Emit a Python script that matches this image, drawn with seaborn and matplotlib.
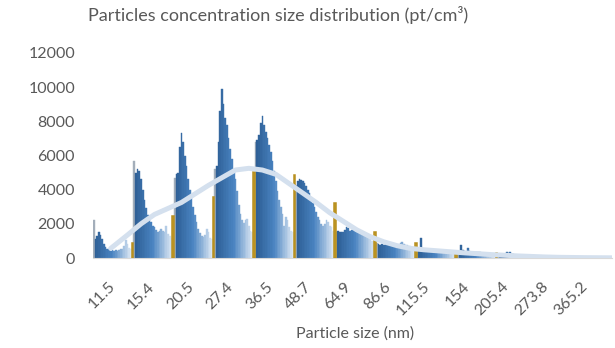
import numpy as np
import pandas as pd
import seaborn as sns
import matplotlib.pyplot as plt
from matplotlib.colors import LinearSegmentedColormap

# tick labels (one per scan segment)
size_labels = ['11.5', '15.4', '20.5', '27.4', '36.5', '48.7', '64.9',
               '86.6', '115.5', '154', '205.4', '273.8', '365.2']

# bar heights per segment (pt/cm3)
seg_11_5 = [2250, 1100, 1300, 1500, 1350, 1100, 800, 650, 550, 500, 420, 450,
            400, 480, 430, 450, 500, 550, 700, 1050, 800, 600, 500]
seg_15_4 = [5700, 5000, 5200, 5100, 4600, 4000, 3400, 2900, 2500, 2300, 2100, 1900,
            1800, 1650, 1550, 1600, 1700, 1600, 1500, 1900, 1400, 1300, 1200]
seg_20_5 = [4700, 4900, 5000, 6500, 7300, 6800, 6000, 5400, 4600, 4000, 3500, 3000,
            2500, 2100, 1700, 1450, 1300, 1250, 1350, 1700, 1500, 1200, 1100]
seg_27_4 = [5200, 5400, 6800, 8600, 9900, 9000, 8200, 7800, 7000, 6400, 5800, 5200,
            4600, 3900, 3100, 2600, 2200, 2050, 2200, 2300, 1900, 1600, 1500]
seg_36_5 = [6800, 6900, 7200, 7900, 8300, 7800, 7400, 7000, 6600, 6200, 5700, 5100,
            4500, 3900, 3400, 3000, 2600, 1900, 2400, 2200, 1800, 1600, 1500]
seg_48_7 = [4300, 4500, 4600, 4550, 4500, 4400, 4200, 4000, 3800, 3500, 3200, 3000,
            2700, 2400, 2200, 2000, 1900, 2000, 2200, 2100, 1900, 1800, 1600]
seg_64_9 = [1500, 1600, 1550, 1500, 1550, 1650, 1800, 1750, 1600, 1650, 1700, 1650,
            1600, 1650, 1550, 1500, 1400, 1350, 1250, 1150, 1100, 1000, 950]
seg_86_6 = [850, 800, 780, 820, 780, 800, 760, 800, 750, 780, 720, 760,
            700, 740, 900, 950, 820, 760, 780, 720, 700, 650, 620]
seg_115_5 = [500, 450, 1150, 550, 480, 450, 500, 470, 430, 460, 450, 420,
             440, 400, 420, 450, 400, 380, 420, 380, 350, 330, 300]
seg_154 = [400, 380, 750, 450, 400, 380, 600, 420, 380, 350, 370, 340,
           330, 350, 320, 300, 320, 300, 280, 260, 250, 240, 220]
seg_205_4 = [250, 230, 220, 240, 250, 350, 300, 380, 250, 220, 200, 180,
             160, 150, 140, 120, 110, 100, 90, 80, 70, 60, 50]
seg_273_8 = [45, 40, 42, 38, 35, 36, 33, 30, 32, 28, 26, 25,
             24, 22, 20, 20, 18, 18, 16, 15, 14, 14, 12]
seg_365_2 = [12, 11, 10, 10, 9, 9, 8, 8, 7, 7, 6, 6,
             5, 5, 5, 4, 4, 4, 3, 3, 3, 2, 2]

# last (gold) bar of each segment
gold = [850, 2450, 3550, 5050, 4850, 3200, 1500, 850, 350, 300, 80, 20, 5]

# moving-average trend, sampled along the bars
trend = [560, 1350,
         2000, 2550, 2900, 3250, 3750, 4250, 4700, 5150, 5250,
         5150, 4900, 4350, 3800, 3250, 2650, 2150, 1650, 1250,
         950, 720, 560, 480, 420, 360, 300, 250, 200,
         160, 120, 90, 60, 40, 30, 20, 15, 10]

segments = [seg_11_5, seg_15_4, seg_20_5, seg_27_4, seg_36_5, seg_48_7, seg_64_9,
            seg_86_6, seg_115_5, seg_154, seg_205_4, seg_273_8, seg_365_2]

grad = LinearSegmentedColormap.from_list(
    'seg', [(0, '#2C5D93'), (0.5, '#4A84C1'), (1, '#DAE6F3')])
GOLD = '#C9A12B'
GREY = '#595959'
FONT = ['Lato', 'DejaVu Sans']

n_seg = len(segments[0]) + 1
values, colors, is_gold = [], [], []
for s, seg in enumerate(segments):
    for i, v in enumerate(seg):
        values.append(v)
        colors.append('#A3AEBA' if i == 0 else grad(i / (len(seg) - 1)))
        is_gold.append(False)
    values.append(gold[s])
    colors.append(GOLD)
    is_gold.append(True)

df = pd.DataFrame({'idx': np.arange(len(values)), 'value': values})

trend_x = [10, 20] + [s * n_seg + o for s in range(1, len(segments)) for o in (4, 12, 20)]

fig = plt.figure(figsize=(6.15, 3.48), dpi=100)
ax = fig.add_axes([93 / 615, 1 - 258 / 348, 519 / 615, 205 / 348])

sns.barplot(data=df, x='idx', y='value', hue='idx', palette=colors, width=1,
            saturation=1, dodge=False, legend=False, ax=ax)
for p, c, g in zip(ax.patches, colors, is_gold):
    p.set_edgecolor('#B8901F' if g else c)
    p.set_linewidth(1.1 if g else 0.3)
    if g:
        p.set_zorder(3)

sns.lineplot(x=trend_x, y=trend, color='#D4E0EE', linewidth=3.6, ax=ax,
             solid_capstyle='round', zorder=4)

ax.set_ylim(0, 12000)
ax.set_xlim(-0.5, 307.5)
ax.set_yticks(range(0, 12001, 2000))
ax.set_yticklabels([str(v) for v in range(0, 12001, 2000)])
# label spacing in the source is slightly tighter than the segment spacing
ax.set_xticks([11.2 + 23.38 * k for k in range(len(size_labels))])
ax.set_xticklabels(size_labels, rotation=45, ha='right', va='center',
                   rotation_mode='anchor')

ax.tick_params(axis='y', length=0, pad=13, labelsize=11.5, labelcolor=GREY)
ax.tick_params(axis='x', length=0, pad=19, labelsize=11.5, labelcolor=GREY)
for t in ax.get_xticklabels() + ax.get_yticklabels():
    t.set_family(FONT)

for side in ['top', 'right', 'left']:
    ax.spines[side].set_visible(False)
ax.spines['bottom'].set_color('#D9D9D9')
ax.set_xlabel('')
ax.set_ylabel('')

fig.text(355 / 615, 1 - 334 / 348, 'Particle size (nm)', ha='center', va='center',
         fontsize=11.5, color=GREY, family=FONT)
fig.text(278 / 615, 1 - 15 / 348, 'Particles concentration size distribution (pt/cm\u00b3)',
         ha='center', va='center', fontsize=13, color=GREY, family=FONT)

fig.savefig('out.png', dpi=100)
